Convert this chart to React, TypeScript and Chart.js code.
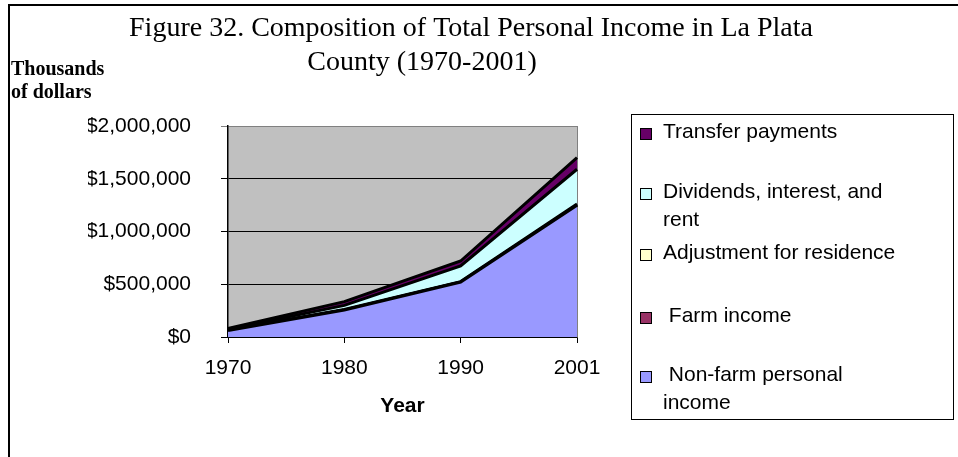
import { useEffect, useRef } from 'react';
import { Chart, registerables } from 'chart.js';

Chart.register(...registerables);

const years = ['1970', '1980', '1990', '2001'];
const nonFarmIncome = [62000, 255000, 520000, 1250000];
const farmIncome = [3000, 2000, 1000, 2000];
const residenceAdjustment = [1000, 3000, 4000, 8000];
const dividendsInterestRent = [8000, 40000, 148000, 330000];
const transferPayments = [8000, 35000, 47000, 110000];
const yTickValues = [0, 500000, 1000000, 1500000, 2000000];

const titleLines = ['Figure 32. Composition of Total Personal Income in La Plata', 'County (1970-2001)'];
const yTitleLines = ['Thousands', 'of dollars'];
const xTitle = 'Year';

const SANS = '"Liberation Sans", Arial, sans-serif';
const SERIF = '"Liberation Serif", "Times New Roman", serif';

function wrap(ctx: CanvasRenderingContext2D, text: string, maxW: number): string[] {
  const words = text.split(' ');
  const lines: string[] = [];
  let cur = '';
  for (const w of words) {
    const next = cur === '' && w === '' ? ' ' : cur ? (cur === ' ' ? cur + w : cur + ' ' + w) : w;
    if (cur && cur.trim() && ctx.measureText(next).width > maxW) {
      lines.push(cur);
      cur = w;
    } else {
      cur = next;
    }
  }
  if (cur) lines.push(cur);
  return lines;
}

const decorPlugin = {
  id: 'decor',
  beforeDraw(chart: any) {
    const { ctx, chartArea: a } = chart;
    ctx.save();
    ctx.fillStyle = '#ffffff';
    ctx.fillRect(0, 0, chart.width, chart.height);
    ctx.fillStyle = '#C0C0C0';
    ctx.fillRect(a.left, a.top, a.right - a.left, a.bottom - a.top);
    ctx.restore();
  },
  beforeDatasetsDraw(chart: any) {
    const { ctx, chartArea: a } = chart;
    ctx.save();
    ctx.strokeStyle = '#808080';
    ctx.lineWidth = 1;
    ctx.beginPath();
    ctx.moveTo(a.right + 0.5, a.top);
    ctx.lineTo(a.right + 0.5, a.bottom);
    ctx.stroke();
    ctx.restore();
  },
  afterDraw(chart: any) {
    const { ctx } = chart;
    ctx.save();
    // frame lines
    ctx.fillStyle = '#000';
    ctx.fillRect(8, 4, 2, chart.height - 4);
    ctx.fillRect(8, 4, chart.width - 8, 2);

    // title
    ctx.fillStyle = '#000';
    ctx.textBaseline = 'alphabetic';
    ctx.textAlign = 'center';
    ctx.font = `28px ${SERIF}`;
    ctx.fillText(titleLines[0], 471, 36);
    ctx.fillText(titleLines[1], 422, 70);

    // y title
    ctx.textAlign = 'left';
    ctx.font = `bold 20px ${SERIF}`;
    ctx.fillText(yTitleLines[0], 11, 75);
    ctx.fillText(yTitleLines[1], 11, 98);

    // legend
    const box = { x: 631, y: 114, w: 322, h: 305 };
    ctx.strokeStyle = '#000';
    ctx.lineWidth = 1;
    ctx.strokeRect(box.x + 0.5, box.y + 0.5, box.w, box.h);
    const rowY = [132, 192, 253, 316, 375];
    ctx.font = `21px ${SANS}`;
    ctx.textBaseline = 'middle';
    const ds = chart.data.datasets;
    for (let k = 0; k < ds.length; k++) {
      const d = ds[ds.length - 1 - k];
      const y = rowY[k];
      ctx.fillStyle = d.backgroundColor;
      ctx.fillRect(640, y - 4, 11, 11);
      ctx.strokeStyle = '#000';
      ctx.strokeRect(640.5, y - 3.5, 11, 11);
      ctx.fillStyle = '#000';
      const lines = wrap(ctx, d.label, 245);
      lines.forEach((ln, i) => ctx.fillText(ln, 663, y + i * 28));
    }
    ctx.restore();
  },
};

export default function App() {
  const ref = useRef<HTMLCanvasElement | null>(null);
  useEffect(() => {
    if (!ref.current) return;
    const series = [
      { label: ' Non-farm personal income', data: nonFarmIncome, color: '#9999FF' },
      { label: ' Farm income', data: farmIncome, color: '#993366' },
      { label: 'Adjustment for residence', data: residenceAdjustment, color: '#FFFFCC' },
      { label: 'Dividends, interest, and rent', data: dividendsInterestRent, color: '#CCFFFF' },
      { label: 'Transfer payments', data: transferPayments, color: '#660066' },
    ];
    const chart = new Chart(ref.current, {
      type: 'line',
      data: {
        labels: years,
        datasets: series.map((s, i) => ({
          label: s.label,
          data: s.data,
          backgroundColor: s.color,
          borderColor: '#000',
          borderWidth: 3,
          pointRadius: 0,
          tension: 0,
          fill: i === 0 ? 'origin' : '-1',
        })),
      },
      options: {
        animation: false,
        responsive: false,
        devicePixelRatio: 1,
        layout: { padding: { left: 88, top: 126, right: 381, bottom: 38 } },
        plugins: {
          legend: { display: false },
          title: { display: false },
          tooltip: { enabled: false },
        },
        scales: {
          x: {
            type: 'category',
            offset: false,
            afterFit: (s: any) => { s.height = 82; },
            grid: { drawOnChartArea: false, drawTicks: true, tickLength: 6, color: '#000' },
            border: { display: true, color: '#000', width: 1.5 },
            ticks: {
              color: '#000',
              font: { family: SANS, size: 21 },
              padding: 13,
              maxRotation: 0,
              autoSkip: false,
            },
            title: {
              display: true,
              text: xTitle,
              color: '#000',
              font: { family: SANS, size: 21, weight: 'bold' },
              padding: 0,
            },
          },
          y: {
            stacked: true,
            min: 0,
            max: 2000000,
            afterFit: (s: any) => { s.width = 140; },
            afterBuildTicks: (s: any) => { s.ticks = yTickValues.map((v) => ({ value: v })); },
            grid: {
              color: (c: any) => (c.tick && c.tick.value === 2000000 ? '#808080' : '#000'),
              lineWidth: 1,
              tickLength: 7,
              drawTicks: true,
            },
            border: { display: true, color: '#000', width: 1.5 },
            ticks: {
              color: '#000',
              font: { family: SANS, size: 21 },
              padding: 30,
              callback: (v: any) => '$' + Number(v).toLocaleString('en-US'),
            },
          },
        },
      },
      plugins: [decorPlugin],
    } as any);
    return () => chart.destroy();
  }, []);
  return (
    <div style={{ position: 'fixed', left: 0, top: 0, width: 958, height: 457, background: '#fff' }}>
      <canvas ref={ref} width={958} height={457} style={{ width: 958, height: 457, display: 'block' }} />
    </div>
  );
}
